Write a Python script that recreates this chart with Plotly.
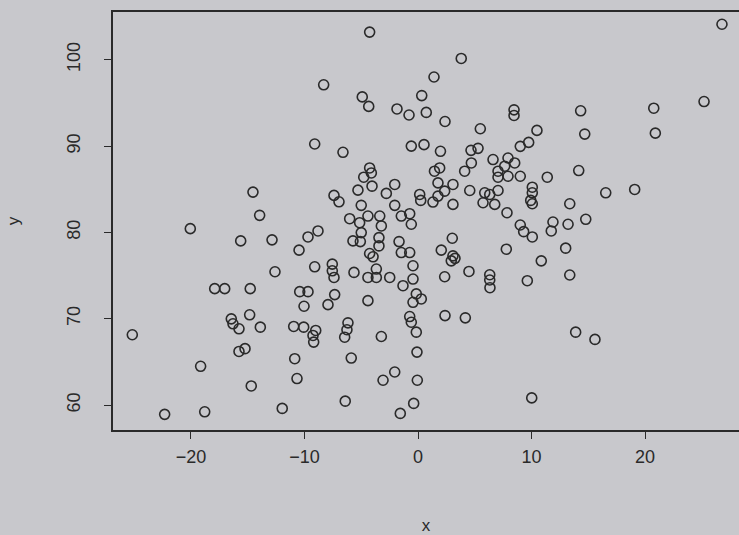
import plotly.graph_objects as go

x_vals = [
    -4.26, -8.31, -4.91, -4.34, -1.85, -0.79, 0.73, 0.33, 1.41, -9.10, -6.61, -0.59, 0.53,
    3.81, 8.46, 8.46, 14.33, 2.38, 5.49, 10.48, 14.69, 1.98, 4.67, 5.29, 9.01, 9.75,
    26.78, 25.2, 20.77, 20.91,
    -14.54, -13.95, -20.06, -15.62, -12.86, -12.6, -17.91, -17.03, -14.78,
    -4.26, -4.11, -4.78, 1.91, 1.45, -5.29, -4.05, -2.79, -2.05, -7.4, -6.96, 0.15, 0.24, 1.32,
    -5.0, -2.05, -6.02, -5.14, -4.41, -3.37, -3.23, -1.47, -0.73, -0.59, -9.69, -8.81, -5.0,
    -5.73, -5.08, -3.44, -3.44, -1.67, -10.48, -4.26, -3.96, -1.47, -0.73, -9.1, -7.55, -7.55,
    -7.4, -5.64, -0.44, -4.41, -3.67, -3.67, -2.49, -0.44, -10.42, -9.69, -1.32,
    4.7, 6.61, 7.93, 8.52, 7.64, 7.05, 7.93, 7.05, 9.01, 11.39, 14.16, 4.11, 1.76, 3.08, 2.35,
    1.76, 4.56, 5.88, 6.32, 7.05, 5.73, 6.76, 10.07, 10.07, 9.93, 10.07, 3.08, 13.37, 7.84,
    14.78, 9.01, 9.31, 10.07, 11.89, 11.74, 13.22, 3.02, 2.05, 3.08, 2.93, 3.26, 7.78, 13.01,
    10.86, 4.49, 2.35, 6.32, 6.32, 6.34, 9.63, 13.37,
    16.54, 19.09,
    -25.17, -16.45, -16.3, -15.77, -14.83, -13.89, -15.77, -15.24, -19.15, -14.69, -22.32, -18.79,
    -7.34, -10.04, -7.93, -4.41, -0.15, 0.29, -0.44, -10.95, -10.07, -9.01, -9.25, -9.19,
    -6.17, -6.26, -6.46, -3.23, -0.73, -0.59, -0.15, -10.86, -5.88, -0.09, -10.66, -3.08,
    -2.05, -0.06, -11.96, -6.41, -1.56, -0.38,
    2.38, 4.17, 13.89, 15.59, 10.02,
]

y_vals = [
    103.2, 97.1, 95.7, 94.6, 94.3, 93.6, 93.9, 95.85, 98.0, 90.24, 89.28, 90.0, 90.17,
    100.15, 94.2, 93.55, 94.09, 92.85, 92.01, 91.82, 91.39, 89.4, 89.51, 89.74, 89.97, 90.43,
    104.11, 95.16, 94.39, 91.5,
    84.67, 81.98, 80.44, 79.02, 79.14, 75.45, 73.49, 73.49, 73.49,
    87.47, 86.89, 86.4, 87.47, 87.09, 84.9, 85.36, 84.52, 85.56, 84.29, 83.55, 84.4, 83.71, 83.52,
    83.14, 83.14, 81.59, 81.13, 81.9, 81.9, 80.75, 81.9, 82.17, 80.95, 79.48, 80.17, 79.98,
    79.02, 78.94, 79.4, 78.44, 78.94, 77.95, 77.56, 77.18, 77.67, 77.67, 76.02, 76.33, 75.56,
    74.79, 75.37, 76.14, 74.79, 74.79, 75.76, 74.79, 74.6, 73.14, 73.14, 73.83,
    88.05, 88.44, 88.62, 88.05, 87.67, 87.09, 86.51, 86.4, 86.51, 86.4, 87.17, 87.09, 85.74, 85.56, 84.78,
    84.21, 84.86, 84.59, 84.4, 84.86, 83.44, 83.25, 85.24, 84.59, 83.71, 83.32, 83.25, 83.32, 82.28,
    81.52, 80.86, 80.09, 79.48, 81.21, 80.17, 80.95, 79.33, 77.95, 77.29, 76.71, 77.0, 78.06, 78.18,
    76.71, 75.48, 74.87, 75.1, 74.49, 73.6, 74.41, 75.07,
    84.59, 84.98,
    68.15, 69.99, 69.42, 68.84, 70.46, 69.03, 66.22, 66.54, 64.5, 62.22, 58.93, 59.23,
    72.8, 71.45, 71.64, 72.1, 72.88, 72.3, 71.91, 69.11, 69.03, 68.65, 68.07, 67.3,
    69.53, 68.73, 67.87, 67.95, 70.26, 69.6, 68.45, 65.38, 65.45, 66.14, 63.08, 62.88,
    63.84, 62.88, 59.62, 60.46, 59.04, 60.2,
    70.37, 70.11, 68.45, 67.61, 60.84,
]

x_ticks = [-20, -10, 0, 10, 20]
y_ticks = [60, 70, 80, 90, 100]

ink = "#2a2a2a"
bg = "#c8c8cc"

fig = go.Figure(
    go.Scatter(
        x=x_vals,
        y=y_vals,
        mode="markers",
        marker=dict(symbol="circle-open", size=10, color=ink, line=dict(width=1.6, color=ink)),
        showlegend=False,
        hoverinfo="skip",
    )
)

fig.update_layout(
    width=739,
    height=535,
    margin=dict(l=113, r=0, t=12, b=103),
    paper_bgcolor=bg,
    plot_bgcolor=bg,
    font=dict(family="Liberation Sans, Arial, sans-serif", size=18, color=ink),
)

fig.update_xaxes(
    range=[-26.87, 28.28],
    tickvals=x_ticks,
    ticktext=[str(v).replace("-", "\u2212") for v in x_ticks],
    ticks="outside",
    ticklen=7,
    tickwidth=1.4,
    tickcolor=ink,
    showline=True,
    linecolor=ink,
    linewidth=1.5,
    mirror=True,
    showgrid=False,
    zeroline=False,
    ticklabelstandoff=3,
    title=dict(text="x", standoff=56, font=dict(size=17)),
)

fig.update_yaxes(
    range=[57.12, 105.53],
    tickvals=y_ticks,
    ticks="outside",
    ticklen=7,
    tickwidth=1.4,
    tickcolor=ink,
    tickangle=-90,
    showline=True,
    linecolor=ink,
    linewidth=1.5,
    mirror=False,
    showgrid=False,
    zeroline=False,
    ticklabelstandoff=17,
    title=dict(text="y", standoff=40, font=dict(size=17)),
)

fig.write_html(
    "out.html",
    config={"displayModeBar": False},
    post_script="document.body.style.margin='0';document.body.style.background='" + bg + "';",
)
